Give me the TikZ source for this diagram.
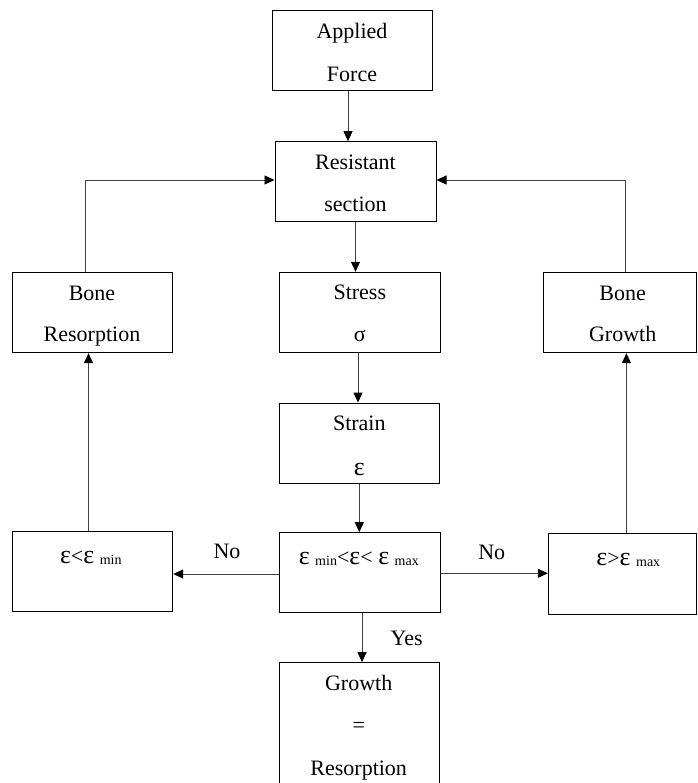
\documentclass[tikz,border=0pt]{standalone}
\usepackage{fontspec}
\setmainfont{Liberation Serif}
\usetikzlibrary{arrows.meta}
\newcommand\subs[1]{\raisebox{-1.5pt}{\fontsize{14}{14}\selectfont #1}}
\newcommand\eps{{\fontsize{26}{26}\selectfont ε}}
\begin{document}
\begin{tikzpicture}[x=1pt,y=-1pt,
  box/.style={draw=black,line width=1pt,inner sep=0pt},
  txt/.style={anchor=base,inner sep=0pt,font=\fontsize{22}{26}\selectfont},
  conn/.style={draw=black!75,line width=0.9pt,-{Triangle[length=10pt,width=9pt,color=black]}}]
\useasboundingbox (0,0) rectangle (697,783);
\fill[white] (0,0) rectangle (697,783);
% boxes
\node[box,minimum width=160,minimum height=80] (af) at (352,51) {};
\node[box,minimum width=161,minimum height=80] (rs) at (355.5,181.7) {};
\node[box,minimum width=160.4,minimum height=80.4] (br) at (92.5,312.5) {};
\node[box,minimum width=161,minimum height=80] (st) at (359.8,312.3) {};
\node[box,minimum width=153.2,minimum height=80.4] (bg) at (620,312.5) {};
\node[box,minimum width=160,minimum height=80.3] (sn) at (359.3,443.2) {};
\node[box,minimum width=160.4,minimum height=80] (lt) at (92.5,571.7) {};
\node[box,minimum width=161,minimum height=80] (mid) at (359.8,572.7) {};
\node[box,minimum width=148.2,minimum height=80.7] (gt) at (622.4,573.7) {};
\node[box,minimum width=160,minimum height=127.3] (gr) at (359.3,726.35) {};
% texts
\node[txt] (afa) at (352,39) {Applied};
\node[txt] (afb) at (352,81.7) {Force};
\node[txt] (rsa) at (355.5,170) {Resistant};
\node[txt] (rsb) at (355.5,211.7) {section};
\node[txt] (bra) at (92,300) {Bone};
\node[txt] (brb) at (92,341.7) {Resorption};
\node[txt] (sta) at (359.8,299.3) {Stress};
\node[txt] (stb) at (359.8,341.7) {σ};
\node[txt] (bga) at (622.7,300) {Bone};
\node[txt] (bgb) at (622.7,341.7) {Growth};
\node[txt] (sna) at (359.3,430.7) {Strain};
\node[txt] (snb) at (359.3,475) {\eps};
\node[txt] (ltt) at (90.8,563.3) {\eps<\eps\ \subs{min}};
\node[txt] (midt) at (358.8,564) {\eps\ \subs{min}<\eps< \eps\ \subs{max}};
\node[txt] (gtt) at (628.3,565) {\eps>\eps\ \subs{max}};
\node[txt] (gra) at (358.7,690) {Growth};
\node[txt] (grb) at (358.7,732) {=};
\node[txt] (grc) at (358.7,775) {Resorption};
\node[txt] (no1) at (227,558) {No};
\node[txt] (no2) at (491.7,559) {No};
\node[txt] (yes) at (406.7,645) {Yes};
% connectors
\draw[conn] ([xshift=-4pt]af.south) -- ([xshift=-4pt]af.south |- rs.north);
\draw[conn] ([xshift=-7.5pt]br.north) |- ([yshift=1.7pt]rs.west);
\draw[conn] ([xshift=5.7pt]bg.north) |- ([yshift=1.7pt]rs.east);
\draw[conn] (rs.south) -- (rs.south |- st.north);
\draw[conn] ([xshift=-1.8pt]st.south) -- ([xshift=-1.8pt]st.south |- sn.north);
\draw[conn] (sn.south) -- (sn.south |- mid.north);
\draw[conn] ([yshift=-1.3pt]mid.west) -- ([yshift=-1.3pt]mid.west -| lt.east);
\draw[conn] ([yshift=-0.6pt]mid.east) -- ([yshift=-0.6pt]mid.east -| gt.west);
\draw[conn] ([xshift=2.2pt]mid.south) -- ([xshift=2.2pt]mid.south |- gr.north);
\draw[conn] ([xshift=-4pt]lt.north) -- ([xshift=-4pt]lt.north |- br.south);
\draw[conn] ([xshift=4pt]gt.north) -- ([xshift=4pt]gt.north |- bg.south);
\end{tikzpicture}
\end{document}
